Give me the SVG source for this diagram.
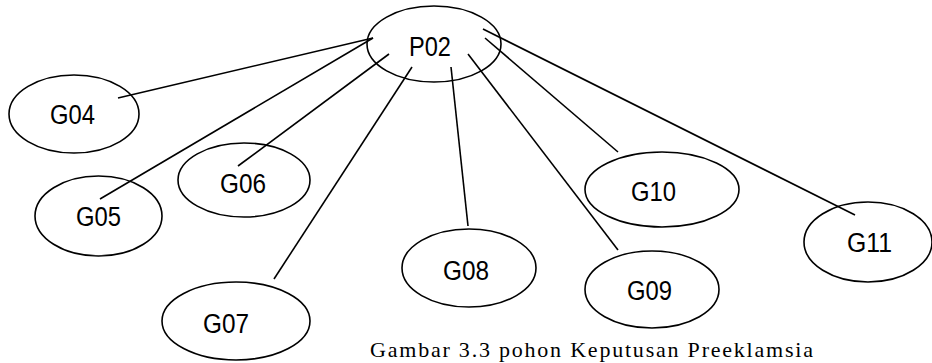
<svg xmlns="http://www.w3.org/2000/svg" width="932" height="363" viewBox="0 0 932 363">
<style>
.node ellipse{fill:#fff;stroke:#000;stroke-width:1.6}
.node text{font-family:"Liberation Sans",Arial,sans-serif;font-size:27px;fill:#000}
#connectors line{stroke:#000;stroke-width:1.6}
.caption{font-family:"Liberation Serif","Times New Roman",serif;font-size:22px;fill:#000}
</style>
<rect width="932" height="363" fill="#fff"/>
<g id="P02" class="node"><ellipse cx="434" cy="44" rx="67" ry="38"/><text x="409" y="56" textLength="42" lengthAdjust="spacingAndGlyphs">P02</text></g>
<g id="G04" class="node"><ellipse cx="74" cy="114" rx="65" ry="39"/><text x="50" y="124" textLength="45" lengthAdjust="spacingAndGlyphs">G04</text></g>
<g id="G05" class="node"><ellipse cx="98.5" cy="216" rx="63.5" ry="40"/><text x="76" y="226" textLength="45" lengthAdjust="spacingAndGlyphs">G05</text></g>
<g id="G06" class="node"><ellipse cx="244" cy="180" rx="66" ry="37"/><text x="220" y="193" textLength="46" lengthAdjust="spacingAndGlyphs">G06</text></g>
<g id="G07" class="node"><ellipse cx="236" cy="321" rx="74" ry="39"/><text x="203" y="333" textLength="46" lengthAdjust="spacingAndGlyphs">G07</text></g>
<g id="G08" class="node"><ellipse cx="469" cy="268" rx="67" ry="39"/><text x="443" y="280" textLength="46" lengthAdjust="spacingAndGlyphs">G08</text></g>
<g id="G09" class="node"><ellipse cx="652" cy="289.5" rx="67" ry="38.5"/><text x="627" y="300" textLength="45" lengthAdjust="spacingAndGlyphs">G09</text></g>
<g id="G10" class="node"><ellipse cx="662" cy="189.5" rx="77" ry="37.5"/><text x="631" y="201" textLength="45" lengthAdjust="spacingAndGlyphs">G10</text></g>
<g id="G11" class="node"><ellipse cx="868" cy="242" rx="64" ry="40"/><text x="847" y="252" textLength="45" lengthAdjust="spacingAndGlyphs">G11</text></g>
<g id="connectors">
<line x1="373" y1="38" x2="118" y2="98"/>
<line x1="373" y1="38" x2="100" y2="199"/>
<line x1="389" y1="54" x2="238" y2="166"/>
<line x1="412" y1="67" x2="274" y2="279"/>
<line x1="451" y1="67" x2="468" y2="226"/>
<line x1="468" y1="54" x2="618" y2="250"/>
<line x1="485" y1="38" x2="618" y2="152"/>
<line x1="483" y1="29" x2="855" y2="215"/>
</g>
<text class="caption" x="370" y="357" textLength="443" lengthAdjust="spacing">Gambar  3.3 pohon Keputusan Preeklamsia</text>
</svg>
